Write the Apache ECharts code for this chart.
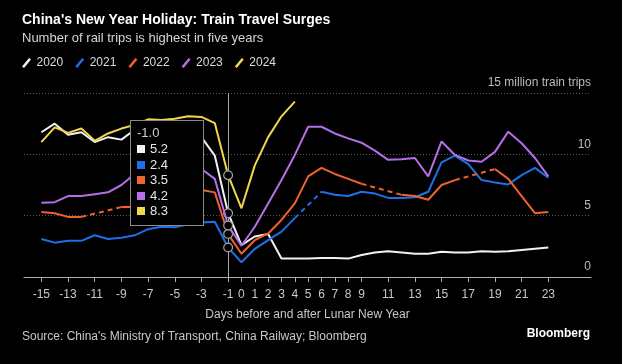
<!DOCTYPE html>
<html><head><meta charset="utf-8">
<script src="https://cdn.jsdelivr.net/npm/echarts@6/dist/echarts.min.js"></script>
<style>html,body{margin:0;padding:0;background:#000;}#c{width:622px;height:364px;}</style>
</head><body><div id="c"></div>
<script>
// ---- data ----
const days = [-15,-14,-13,-12,-11,-10,-9,-8,-7,-6,-5,-4,-3,-2,-1,0,1,2,3,4,5,6,7,8,9,10,11,12,13,14,15,16,17,18,19,20,21,22,23];
const xTickLabels = [-15,-13,-11,-9,-7,-5,-3,-1,0,1,2,3,4,5,6,7,8,9,11,13,15,17,19,21,23];
const yTicks = [0,5,10,15];
const yTopLabel = '15 million train trips';
const seriesNames = ['2020','2021','2022','2023','2024'];
const trips2020 = [11.8,12.5,11.6,11.8,11.0,11.4,11.2,12.0,12.3,12.4,12.4,12.2,11.4,9.9,5.2,
  2.6,3.3,3.5,1.5,1.5,1.5,1.55,1.55,1.5,1.8,2.0,2.1,2.0,1.9,1.9,2.05,2.0,2.0,2.1,2.05,2.1,2.2,2.3,2.4];
const trips2021 = [3.1,2.8,2.95,2.95,3.4,3.1,3.2,3.4,3.9,4.1,4.05,4.3,4.45,4.5,2.4,
  1.2,2.3,3.0,3.7,4.8,null,6.95,6.7,6.6,6.95,6.8,6.45,6.45,6.5,6.95,9.35,9.9,9.2,7.9,7.7,7.55,8.3,8.9,8.1];
const trips2022 = [5.3,5.2,4.9,4.9,null,null,5.7,5.7,5.9,6.3,6.7,7.0,7.1,6.9,3.5,
  1.9,3.0,3.55,4.65,6.0,8.2,8.9,8.4,8.0,7.6,null,null,6.7,6.6,6.3,7.5,7.9,null,null,8.8,8.0,6.6,5.2,5.3];
const trips2023 = [6.05,6.1,6.6,6.6,6.75,6.9,7.5,8.4,8.8,9.0,9.1,9.1,8.8,8.0,4.2,
  2.55,4.1,6.0,7.9,9.95,12.25,12.25,11.7,11.3,10.95,10.3,9.55,9.6,9.7,8.2,11.05,9.95,9.5,9.4,10.2,11.85,10.9,9.7,8.2];
const trips2024 = [11.0,12.2,11.75,12.1,11.1,11.7,12.1,12.4,12.85,12.8,12.9,13.1,13.05,12.55,8.3,
  5.6,9.1,11.4,13.1,14.3,null,null,null,null,null,null,null,null,null,null,null,null,null,null,null,null,null,null,null];
const highlightDay = -1;

const allValues = [trips2020, trips2021, trips2022, trips2023, trips2024];
const colors = ['#f2f2f2','#1f6fe8','#f0622e','#b56fe8','#f3d64e'];
const FONT = "'Liberation Sans', Arial, sans-serif";

const hiIdx = days.indexOf(highlightDay);
const series = [];
allValues.forEach((vals, i) => {
  series.push({
    name: seriesNames[i], type: 'line', symbol: 'circle', symbolSize: 0, showSymbol: true,
    lineStyle: { color: colors[i], width: 2 }, itemStyle: { color: colors[i] },
    emphasis: { disabled: true }, animation: false, z: 2 + i,
    data: days.map((d, k) => {
      if (vals[k] == null) return [d, '-'];
      if (k === hiIdx) return { value: [d, vals[k]], symbolSize: 8,
        itemStyle: { color: '#000', borderColor: '#a0a0a0', borderWidth: 1.2 } };
      return [d, vals[k]];
    })
  });
  // dashed bridges across missing days
  let k = 0;
  while (k < vals.length) {
    if (vals[k] == null && k > 0 && vals[k-1] != null) {
      let e = k;
      while (e < vals.length && vals[e] == null) e++;
      if (e < vals.length) {
        series.push({ name: seriesNames[i], type: 'line', symbol: 'none', silent: true,
          lineStyle: { color: colors[i], width: 2, type: [5, 4] }, emphasis: { disabled: true },
          animation: false, z: 2 + i,
          data: [[days[k-1], vals[k-1]], [days[e], vals[e]]] });
      }
      k = e;
    } else k++;
  }
});

const chart = echarts.init(document.getElementById('c'), null, { renderer: 'canvas' });
chart.setOption({
  backgroundColor: '#000',
  animation: false,
  title: [
    { text: "China's New Year Holiday: Train Travel Surges", subtext: 'Number of rail trips is highest in five years',
      left: 22, top: 13, padding: 0, itemGap: 5,
      textStyle: { color: '#fff', fontSize: 14, fontWeight: 'bold', fontFamily: FONT },
      subtextStyle: { color: '#d6d6d6', fontSize: 13, fontFamily: FONT } },
    { text: "Source: China's Ministry of Transport, China Railway; Bloomberg", left: 22, top: 331, padding: 0,
      textStyle: { color: '#c8c8c8', fontSize: 12, fontWeight: 'normal', fontFamily: FONT } },
    { text: 'Bloomberg', right: 32, top: 328, padding: 0,
      textStyle: { color: '#fff', fontSize: 12, fontWeight: 'bold', fontFamily: FONT } }
  ],
  legend: {
    data: seriesNames, left: 22, top: 57, padding: 0, itemWidth: 10, itemHeight: 10, itemGap: 12,
    icon: 'path://M0,8.5 L7,0 L9,1.5 L2,10 Z', selectedMode: false,
    textStyle: { color: '#dcdcdc', fontSize: 12, fontFamily: FONT }
  },
  grid: { left: 24, right: 31, top: 93, bottom: 87, containLabel: false, outerBoundsMode: 'none' },
  xAxis: {
    type: 'value', min: -16.3, max: 26.2,
    name: 'Days before and after Lunar New Year', nameLocation: 'middle', nameGap: 32,
    nameTextStyle: { color: '#c8c8c8', fontSize: 12, fontFamily: FONT },
    axisLine: { show: true, lineStyle: { color: '#b0b0b0', width: 1 } },
    axisTick: { show: true, length: 5, customValues: xTickLabels, lineStyle: { color: '#b0b0b0' } },
    axisLabel: { customValues: xTickLabels, color: '#c8c8c8', fontSize: 12, margin: 12, fontFamily: FONT, hideOverlap: false },
    splitLine: { show: false }
  },
  yAxis: {
    type: 'value', min: 0, max: 15, interval: 5, position: 'right',
    axisLine: { show: false }, axisTick: { show: false },
    axisLabel: { inside: true, margin: 0, align: 'right', verticalAlign: 'bottom', padding: [0, 0, 4, 0],
      color: '#bdbdbd', fontSize: 12, fontFamily: FONT,
      formatter: v => v === yTicks[3] ? yTopLabel : String(v) },
    splitLine: { show: true, lineStyle: { color: '#5a5a5a', type: [1, 2], width: 1 } }
  },
  tooltip: {
    trigger: 'axis', triggerOn: 'none', alwaysShowContent: true, transitionDuration: 0,
    position: [130, 120], backgroundColor: '#000', borderColor: '#8a8a8a', borderWidth: 1,
    padding: [4, 6, 6, 6],
    extraCssText: 'box-shadow:none;border-radius:0;width:60px;',
    axisPointer: { type: 'line', lineStyle: { color: '#a8a8a8', width: 1, type: 'solid' }, z: 1 },
    formatter: () => {
      let h = `<div style="font:13px/16px ${FONT};color:#cfcfcf">${highlightDay.toFixed(1)}</div>`;
      allValues.forEach((vals, i) => {
        h += `<div style="font:13px/15.5px ${FONT};color:#e6e6e6;white-space:nowrap">` +
          `<span style="display:inline-block;width:8px;height:8px;background:${colors[i]};margin-right:5px;vertical-align:0px"></span>` +
          `${vals[hiIdx].toFixed(1)}</div>`;
      });
      return h;
    }
  },
  series: series
});
chart.dispatchAction({ type: 'showTip', seriesIndex: 0, dataIndex: hiIdx });
</script></body></html>
